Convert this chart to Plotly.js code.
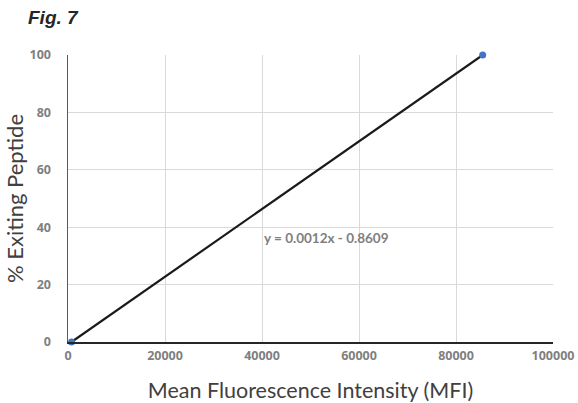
<!DOCTYPE html>
<html><head><meta charset="utf-8">
<script src="https://cdn.plot.ly/plotly-3.0.1.min.js"></script>
<style>html,body{margin:0;padding:0;background:#fff}#chart{width:578px;height:403px}</style>
</head><body><div id="chart"></div>
<script>
const mfi = [730, 85500];
const exiting = [0, 100];
const xTicks = [0, 20000, 40000, 60000, 80000, 100000];
const yTicks = [0, 20, 40, 60, 80, 100];
const equationLabel = "y = 0.0012x - 0.8609";
const figLabel = "Fig. 7";

// linear trendline fitted to the data
const n = mfi.length;
const mx = mfi.reduce((a,b)=>a+b,0)/n, my = exiting.reduce((a,b)=>a+b,0)/n;
let sxy=0, sxx=0;
for (let i=0;i<n;i++){sxy+=(mfi[i]-mx)*(exiting[i]-my); sxx+=(mfi[i]-mx)**2;}
const slope = sxy/sxx, icpt = my - slope*mx;
const trendX = [Math.min(...mfi), Math.max(...mfi)];
const trendY = trendX.map(x=>slope*x+icpt);

const font = "Lato, 'Open Sans', sans-serif";
const tickFont = {size: 12.5, color: '#7f7f7f', family: "'Open Sans', sans-serif", weight: 'bold'};
const data = [
  {x: trendX, y: trendY, mode: 'lines', line: {color: '#1a1a1a', width: 2.2}, hoverinfo: 'skip', cliponaxis: false},
  {x: mfi, y: exiting, mode: 'markers', marker: {color: '#4472C4', size: 7}, cliponaxis: false}
];
const pw = 578-68-25, ph = 403-55-61;
const layout = {
  width: 578, height: 403,
  margin: {l: 68, r: 25, t: 55, b: 61},
  paper_bgcolor: '#fff', plot_bgcolor: '#fff',
  showlegend: false,
  font: {family: font, color: '#595959'},
  xaxis: {
    range: [0, 100000], tickvals: xTicks, ticktext: xTicks.map(String),
    showgrid: true, gridcolor: '#d9d9d9', gridwidth: 1,
    zeroline: false, showline: true, linecolor: '#262626', linewidth: 1.5,
    ticks: '', tickfont: tickFont,
    ticklabelstandoff: 1,
    title: {text: 'Mean Fluorescence Intensity (MFI)', font: {size: 21.5, color: '#404040', family: font}, standoff: 20}
  },
  yaxis: {
    range: [0, 100], tickvals: yTicks, ticktext: yTicks.map(String),
    showgrid: true, gridcolor: '#d9d9d9', gridwidth: 1,
    zeroline: false, showline: true, linecolor: '#595959', linewidth: 1.5,
    ticks: '', tickfont: tickFont,
    ticklabelstandoff: 13,
    title: {text: '% Exiting Peptide', font: {size: 22, color: '#404040', family: font}, standoff: 0}
  },
  annotations: [
    {x: 40000, y: 36.3, xref: 'x', yref: 'y', xanchor: 'left', yanchor: 'middle', showarrow: false,
     text: '<b>' + equationLabel + '</b>', font: {size: 13.5, color: '#7f7f7f', family: font}},
    {x: (26-68)/pw, y: (403-61-18)/ph, xref: 'paper', yref: 'paper', xanchor: 'left', yanchor: 'middle', showarrow: false,
     text: '<b><i>' + figLabel + '</i></b>', font: {size: 19, color: '#262626', family: "'Liberation Sans', Arial, sans-serif"}}
  ]
};
Plotly.newPlot('chart', data, layout, {staticPlot: true});
</script></body></html>
